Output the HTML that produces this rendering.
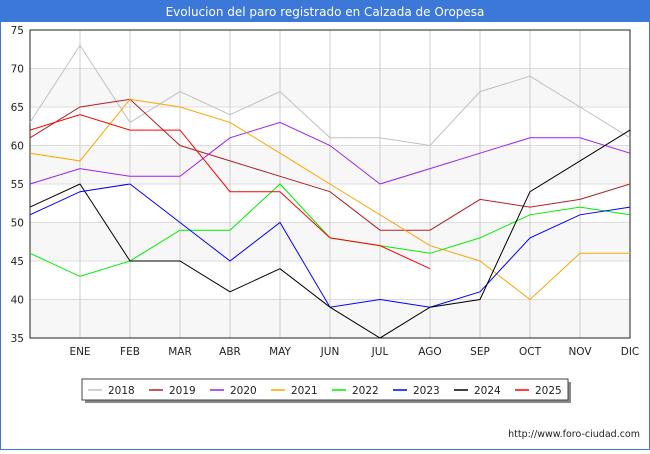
<!DOCTYPE html>
<html><head><meta charset="utf-8"><style>
body{margin:0;width:650px;height:450px;background:#fff;font-family:"DejaVu Sans",sans-serif;overflow:hidden}
</style></head><body>
<svg width="650" height="450" id="c" xmlns="http://www.w3.org/2000/svg">
<rect x="0.5" y="0.5" width="649" height="449" fill="#fff" stroke="#3b78d8"/>
<rect x="0" y="0" width="650" height="22" fill="#3b78d8"/>
<text x="325" y="16" text-anchor="middle" fill="#fff" font-size="12">Evolucion del paro registrado en Calzada de Oropesa</text>
<g id="plot"></g>
<rect x="85" y="382" width="486" height="21" fill="#888"/>
<rect x="82" y="379" width="486" height="21" fill="#fff" stroke="#444"/>
<g id="leg"></g>
<text x="640" y="437" text-anchor="end" font-size="9.5" fill="#222">http://www.foro-ciudad.com</text>
</svg>
<script>
const months=["","ENE","FEB","MAR","ABR","MAY","JUN","JUL","AGO","SEP","OCT","NOV","DIC"];
const yTicks=[35,40,45,50,55,60,65,70,75];
const years=["2018","2019","2020","2021","2022","2023","2024","2025"];
const colors=["#c0c0c0","#b22222","#a020f0","#ffa500","#00ee00","#0000ff","#000000","#ff0000"];
const s2018=[63,73,63,67,64,67,61,61,60,67,69,65,61];
const s2019=[61,65,66,60,58,56,54,49,49,53,52,53,55];
const s2020=[55,57,56,56,61,63,60,55,57,59,61,61,59];
const s2021=[59,58,66,65,63,59,55,51,47,45,40,46,46];
const s2022=[46,43,45,49,49,55,48,47,46,48,51,52,51];
const s2023=[51,54,55,50,45,50,39,40,39,41,48,51,52];
const s2024=[52,55,45,45,41,44,39,35,39,40,54,58,62];
const s2025=[62,64,62,62,54,54,48,47,44];
const series=[s2018,s2019,s2020,s2021,s2022,s2023,s2024,s2025];
const NS="http://www.w3.org/2000/svg";
const x0=30,x1=630,y0=30,y1=338;
const X=i=>x0+i*(x1-x0)/12;
const Y=v=>y1-(v-35)*(y1-y0)/40;
const g=document.getElementById('plot');
function mk(t,a,p){const e=document.createElementNS(NS,t);for(const k in a)e.setAttribute(k,a[k]);(p||g).appendChild(e);return e;}
for(let i=0;i<yTicks.length-1;i++){if(i%2==0){const r=mk('rect',{x:x0,y:Y(yTicks[i+1]),width:x1-x0,height:Y(yTicks[i])-Y(yTicks[i+1]),fill:'#f7f7f7'});

}}
yTicks.forEach(v=>{const l=mk('line',{x1:x0,x2:x1,y1:Y(v),y2:Y(v),stroke:'#ddd'});


const t=mk('text',{x:x0-6,y:Y(v)+4,'text-anchor':'end','font-size':10.5,fill:'#222'});t.textContent=v;

});
months.forEach((m,i)=>{const l=mk('line',{x1:X(i),x2:X(i),y1:y0,y2:y1,stroke:'#ccc'});


if(m){const t=mk('text',{x:X(i),y:355,'text-anchor':'middle','font-size':10.5,fill:'#222'});t.textContent=m;

}});
const fr=mk('rect',{x:x0,y:y0,width:x1-x0,height:y1-y0,fill:'none',stroke:'#222'});


series.forEach((s,k)=>{const p=mk('polyline',{points:s.map((v,i)=>X(i)+','+Y(v)).join(' '),fill:'none',stroke:colors[k],'stroke-width':1});

});
const lg=document.getElementById('leg');
years.forEach((y,k)=>{const lx=88+k*61;
const l=mk('line',{x1:lx,x2:lx+14,y1:390,y2:390,stroke:colors[k],'stroke-width':1.5},lg);


const t=mk('text',{x:lx+20,y:394,'font-size':10.5,fill:'#222'},lg);t.textContent=y;

});
</script>
</body></html>
